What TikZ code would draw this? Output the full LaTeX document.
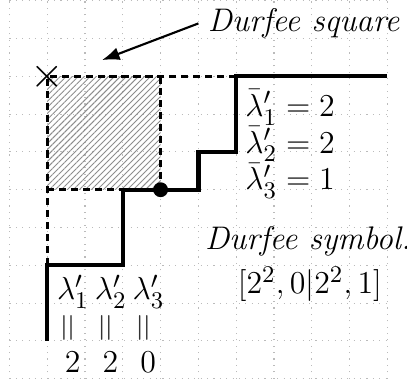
\documentclass[tikz,border=0pt]{standalone}
\usepackage{amsmath}
\usetikzlibrary{arrows.meta, patterns.meta}

\begin{document}
\begin{tikzpicture}[x=0.5cm, y=0.5cm, font=\fontsize{12.3}{15}\selectfont]
    % Define grid size
    \def\gridLimit{10}

    \definecolor{gridColour}{HTML}{BBBBBB}
    \definecolor{hatchColour}{HTML}{8C8C8C}

    \useasboundingbox (-0.25,-0.12) rectangle (10.52,10.02);

    % Draw grid
    \draw[step=1, gridColour, dotted] (0,0) grid (\gridLimit,\gridLimit);

    % Define the corners of the Durfee square
    \coordinate (origin) at (1,8);
    \coordinate (sqTR) at (4,8);
    \coordinate (sqBR) at (4,5);
    \coordinate (sqBL) at (1,5);

    % Hatch the Durfee square
    \fill[pattern={Lines[angle=45, distance=1.6pt, line width=0.35pt]}, pattern color=hatchColour]
        (origin) rectangle (sqBR);

    % Draw the dashed frame
    \draw[line width=1pt, dash pattern=on 2.7pt off 1.8pt] (6,8) -- (origin) -- (1,3);
    \draw[line width=1pt, dash pattern=on 2.7pt off 1.8pt] (sqTR) -- (sqBR);
    \draw[line width=1pt, dash pattern=on 2.7pt off 1.8pt] (sqBL) -- (3,5);

    % Draw the boundary of the partition
    \draw[ultra thick] (10,8) -- (6,8) -- (6,6) -- (5,6) -- (5,5) -- (3,5) -- (3,3) -- (1,3) -- (1,1);

    % Mark the corner and the point on the boundary
    \node[scale=1.35] (corner) at (origin) {$\times$};
    \fill (sqBR) circle (2.8pt);

    % Label the Durfee square
    \node[anchor=west] (squareLabel) at (5.0,9.4) {\textit{Durfee square}};
    \coordinate (squareTip) at (2.45,8.43);
    \draw[thick, -{Latex}] (squareLabel.west) -- (squareTip);

    % Label the rows
    \node[anchor=north west, inner sep=0pt, align=left, font=\fontsize{12.3}{13.9}\selectfont]
        (rowLabels) at (6.23,7.66)
        {$\bar\lambda'_1 = 2$\\ $\bar\lambda'_2 = 2$\\ $\bar\lambda'_3 = 1$};

    % Label the columns
    \foreach \i/\v in {1/2, 2/2, 3/0} {
        \node (colLabel\i) at (0.68+\i,2.3) {$\lambda'_\i$};
        \node[rotate=90, scale=1.2, text=black!80] (colEq\i) at (0.61+\i,1.33) {$=$};
        \node (colValue\i) at (0.67+\i,0.44) {$\v$};
    }

    % Durfee symbol
    \node (symbolLabel) at (7.9,3.64) {\textit{Durfee symbol.}};
    \node (symbol) at (7.95,2.5) {$[2^2,0|2^2,1]$};

\end{tikzpicture}
\end{document}
